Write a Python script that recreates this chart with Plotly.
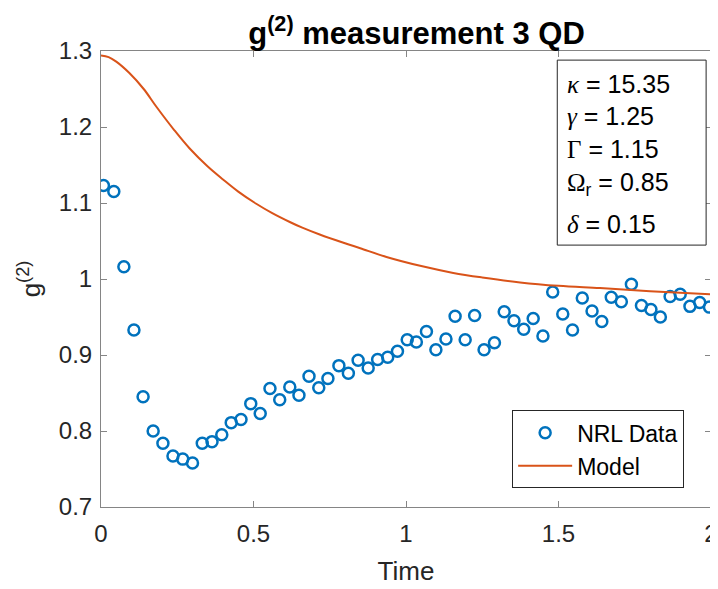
import plotly.graph_objects as go

# ---- data ----
t_data = [0.008, 0.042, 0.075, 0.108, 0.138, 0.171, 0.203, 0.236, 0.268, 0.300,
          0.332, 0.364, 0.396, 0.427, 0.459, 0.491, 0.522, 0.554, 0.586, 0.619,
          0.649, 0.682, 0.714, 0.744, 0.780, 0.811, 0.843, 0.876, 0.907, 0.940,
          0.972, 1.004, 1.034, 1.067, 1.098, 1.131, 1.161, 1.194, 1.225, 1.256,
          1.290, 1.322, 1.354, 1.386, 1.417, 1.449, 1.481, 1.514, 1.546, 1.578,
          1.610, 1.642, 1.673, 1.706, 1.739, 1.772, 1.803, 1.834, 1.866, 1.899,
          1.931, 1.963, 1.995]
g2_data = [1.123, 1.115, 1.016, 0.933, 0.845, 0.800, 0.784, 0.767, 0.763, 0.758,
           0.784, 0.786, 0.795, 0.811, 0.815, 0.836, 0.823, 0.856, 0.841, 0.858,
           0.847, 0.872, 0.857, 0.869, 0.886, 0.876, 0.893, 0.883, 0.894, 0.897,
           0.905, 0.920, 0.917, 0.931, 0.907, 0.921, 0.951, 0.920, 0.952, 0.907,
           0.916, 0.957, 0.945, 0.934, 0.948, 0.925, 0.983, 0.954, 0.933, 0.975,
           0.958, 0.944, 0.976, 0.970, 0.993, 0.965, 0.960, 0.950, 0.977, 0.980,
           0.964, 0.969, 0.963]

t_model = [0.0, 0.025, 0.05, 0.093, 0.14, 0.181, 0.24, 0.29, 0.35, 0.40,
           0.45, 0.509, 0.56, 0.619, 0.66, 0.717, 0.80, 0.85, 0.936, 1.05,
           1.155, 1.25, 1.374, 1.5, 1.636, 1.8, 2.0]
g2_model = [1.294, 1.292, 1.286, 1.271, 1.250, 1.227, 1.196, 1.172, 1.148, 1.131,
            1.115, 1.099, 1.087, 1.075, 1.0675, 1.0585, 1.047, 1.0405, 1.029, 1.017,
            1.008, 1.002, 0.9955, 0.991, 0.988, 0.984, 0.980]

x_ticks = [0, 0.5, 1, 1.5, 2]
x_tick_labels = ["0", "0.5", "1", "1.5", "2"]
y_ticks = [0.7, 0.8, 0.9, 1.0, 1.1, 1.2, 1.3]
y_tick_labels = ["0.7", "0.8", "0.9", "1", "1.1", "1.2", "1.3"]

SERIF = "font-family:Liberation Serif"
param_lines = [f'<span style="{SERIF}"><i>κ</i></span> = 15.35',
               f'<span style="{SERIF}"><i>γ</i></span> = 1.25',
               f'<span style="{SERIF}">Γ</span> = 1.15',
               f'<span style="{SERIF}">Ω</span><sub>r</sub> = 0.85',
               f'<span style="{SERIF}"><i>δ</i></span> = 0.15']
param_y = [1.2565, 1.2145, 1.1707, 1.1246, 1.0719]

FONT = "Liberation Sans, Arial, Helvetica, sans-serif"
TXT = "#262626"
AX = "#858585"

# the page adds an 8px body margin, so the figure is 8px smaller than the window
W, H = 710, 581

fig = go.Figure()
fig.add_trace(go.Scatter(
    x=t_data, y=g2_data, mode="markers", name="NRL Data",
    marker=dict(symbol="circle-open", size=11, color="#0072BD",
                line=dict(width=2.5, color="#0072BD")),
))
fig.add_trace(go.Scatter(
    x=t_model, y=g2_model, mode="lines", name="Model", line_shape="spline",
    line=dict(color="#D95319", width=2, smoothing=1.0),
))

# parameter box
fig.add_shape(type="rect", xref="x", yref="y", x0=1.496, x1=1.984,
              y0=1.0446, y1=1.288, line=dict(color=TXT, width=1),
              fillcolor="white", layer="above")
for txt, yy in zip(param_lines, param_y):
    fig.add_annotation(x=1.521, y=yy, xref="x", yref="y", text=txt,
                       showarrow=False, xanchor="left", yanchor="middle",
                       font=dict(family=FONT, size=25, color="black"))

fig.update_layout(
    width=W, height=H,
    margin=dict(l=93, r=7, t=43, b=82, autoexpand=False),
    paper_bgcolor="white", plot_bgcolor="white",
    font=dict(family=FONT, color=TXT),
    title=dict(text="<b>g<sup>(2)</sup> measurement 3 QD</b>",
               x=408.5 / W, xanchor="center", xref="container",
               y=1 - 25 / H, yanchor="middle", yref="container",
               font=dict(family=FONT, size=31, color="black")),
    showlegend=True,
    legend=dict(x=0.674, y=0.212, xanchor="left", yanchor="top",
                bgcolor="white", bordercolor=TXT, borderwidth=1,
                font=dict(family=FONT, size=23, color="black"),
                itemwidth=54, tracegroupgap=0),
)
fig.update_xaxes(
    range=[0, 2], tickvals=x_ticks, ticktext=x_tick_labels, automargin=False,
    showline=True, linecolor=AX, linewidth=1, mirror="ticks",
    ticks="inside", ticklen=6, tickcolor=AX, showgrid=False, zeroline=False,
    tickfont=dict(family=FONT, size=24, color=TXT), ticklabelstandoff=5,
    title=dict(text="Time", font=dict(family=FONT, size=26, color=TXT), standoff=16),
)
fig.update_yaxes(
    range=[0.7, 1.3], tickvals=y_ticks, ticktext=y_tick_labels, automargin=False,
    showline=True, linecolor=AX, linewidth=1, mirror="ticks",
    ticks="inside", ticklen=6, tickcolor=AX, showgrid=False, zeroline=False,
    tickfont=dict(family=FONT, size=24, color=TXT), ticklabelstandoff=3,
    title=dict(text="g<sup>(2)</sup>", font=dict(family=FONT, size=26, color=TXT), standoff=10),
)

fig.write_html("out.html")
